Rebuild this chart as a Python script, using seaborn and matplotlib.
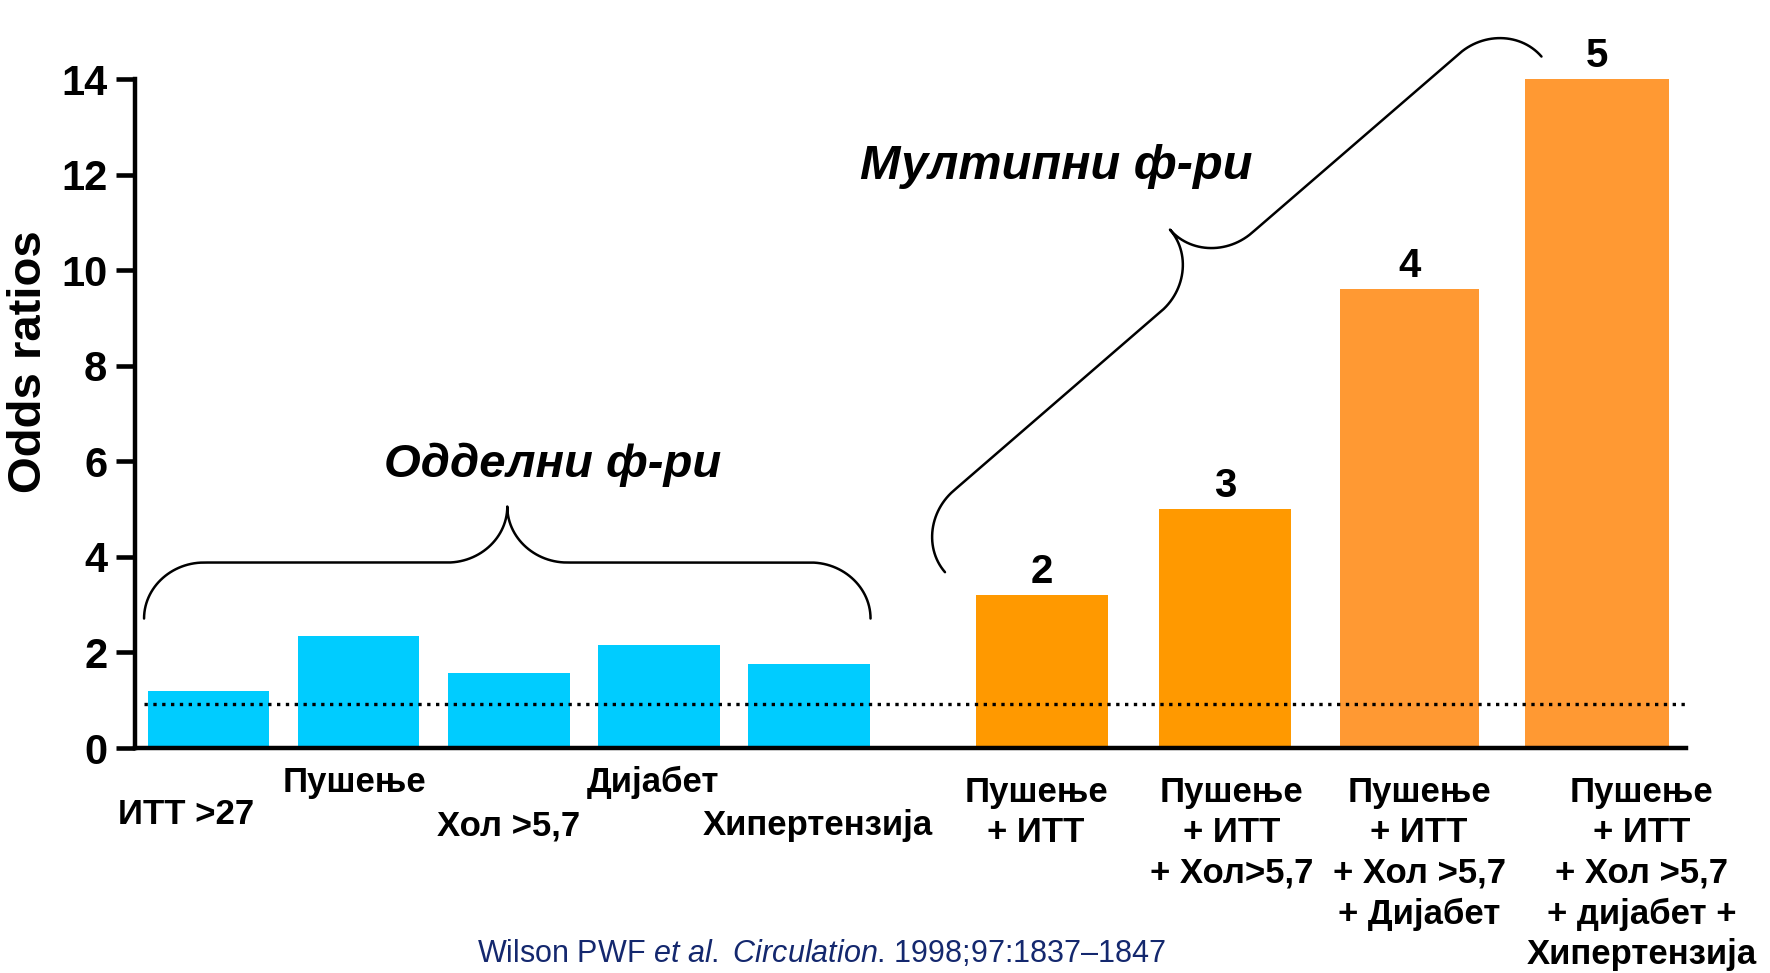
import numpy as np
import pandas as pd
import matplotlib.pyplot as plt
import seaborn as sns

# Data
labels = ['ИТТ >27', 'Пушење', 'Хол >5,7', 'Дијабет', 'Хипертензија',
          'Пушење\n+ ИТТ',
          'Пушење\n+ ИТТ\n+ Хол>5,7',
          'Пушење\n+ ИТТ\n+ Хол >5,7\n+ Дијабет',
          'Пушење\n+ ИТТ\n+ Хол >5,7\n+ дијабет +\nХипертензија']
odds = [1.2, 2.35, 1.57, 2.15, 1.75, 3.2, 5.0, 9.6, 14.0]
n_factors = ['', '', '', '', '', '2', '3', '4', '5']
colors = ['#00CCFF'] * 5 + ['#FF9900', '#FF9900', '#FF9933', '#FF9933']
ref_line = 0.93
yticks = [0, 2, 4, 6, 8, 10, 12, 14]

# Layout
positions = [0, 1, 2, 3, 4, 5.55, 6.77, 8.0, 9.25]
widths = [0.81] * 5 + [0.88, 0.88, 0.93, 0.955]
# label offsets (points): (dx, dy) from the bar foot
label_off = [(-16, -48), (-3, -25), (0, -56), (-4, -25), (6, -56),
             (-4, -20), (5, -20), (7, -20), (32, -20)]

sns.set_theme(style='white')
plt.rcParams['font.family'] = ['Liberation Sans', 'DejaVu Sans']
plt.rcParams['text.color'] = 'black'
plt.rcParams['axes.labelcolor'] = 'black'
plt.rcParams['ytick.color'] = 'black'
plt.rcParams['mathtext.fontset'] = 'custom'
plt.rcParams['mathtext.rm'] = 'Liberation Sans'
plt.rcParams['mathtext.it'] = 'Liberation Sans:italic'

df = pd.DataFrame({'pos': positions, 'odds': odds, 'label': labels})

fig = plt.figure(figsize=(17.7, 9.73), dpi=100)
ax = fig.add_axes([0.0763, 0.2312, 0.876, 0.6876])
sns.barplot(data=df, x='pos', y='odds', hue='label', palette=colors,
            native_scale=True, legend=False, ax=ax, saturation=1)

# bar widths differ a bit in the original
for p in ax.patches:
    c = p.get_x() + p.get_width() / 2
    i = int(np.argmin([abs(c - q) for q in positions]))
    p.set_x(c - widths[i] / 2)
    p.set_width(widths[i])
    p.set_edgecolor('none')

ax.set_xlim(-0.49, 9.84)
ax.set_ylim(0, 14)
ax.set_yticks(yticks)
ax.set_xticks([])
ax.set_xlabel('')
ax.set_ylabel('Odds ratios', fontsize=34, fontweight='bold')
ax.yaxis.set_label_coords(-0.054, 0.577)
ax.tick_params(axis='y', left=True, length=14, width=3.3, pad=6,
               labelsize=30, color='black', labelcolor='black')
for t in ax.get_yticklabels():
    t.set_fontweight('bold')
sns.despine(ax=ax)
for s in ['left', 'bottom']:
    ax.spines[s].set_color('black')
    ax.spines[s].set_linewidth(3.2)

ax.plot([-0.43, 9.84], [ref_line, ref_line], ls=':', color='black', lw=2.4,
        zorder=3, clip_on=False)

# category labels
for x, lab, (dx, dy) in zip(positions, labels, label_off):
    ax.annotate(lab, (x, 0), xytext=(dx, dy), textcoords='offset points',
                ha='center', va='top' if '\n' in lab else 'center',
                multialignment='center', fontsize=25, fontweight='bold',
                linespacing=1.29, annotation_clip=False)

# number of factors above bars
for x, v, n in zip(positions, odds, n_factors):
    if n:
        ax.annotate(n, (x, v), xytext=(0, 3), textcoords='offset points',
                    ha='center', va='bottom', fontsize=29, fontweight='bold',
                    annotation_clip=False)


def brace(p1, p2, h, r, k=0.55, npts=30):
    # curly brace between two data points, h and r in pixels
    a = ax.transData.transform(p1)
    b = ax.transData.transform(p2)
    d = b - a
    L = np.hypot(*d)
    u = d / L
    nv = np.array([-u[1], u[0]])
    segs = [
        [(0, 0), (0, k * h), (r - k * r, h), (r, h)],
        [(r, h), (r, h), (L / 2 - r, h), (L / 2 - r, h)],
        [(L / 2 - r, h), (L / 2 - r + k * r, h), (L / 2, 2 * h - k * h), (L / 2, 2 * h)],
        [(L / 2, 2 * h), (L / 2, 2 * h - k * h), (L / 2 + r - k * r, h), (L / 2 + r, h)],
        [(L / 2 + r, h), (L / 2 + r, h), (L - r, h), (L - r, h)],
        [(L - r, h), (L - r + k * r, h), (L, k * h), (L, 0)],
    ]
    t = np.linspace(0, 1, npts)[:, None]
    pts = []
    for P in segs:
        P = np.array(P, dtype=float)
        q = ((1 - t) ** 3 * P[0] + 3 * (1 - t) ** 2 * t * P[1]
             + 3 * (1 - t) * t ** 2 * P[2] + t ** 3 * P[3])
        pts.append(q)
    pts = np.vstack(pts)
    disp = a + pts[:, :1] * u + pts[:, 1:] * nv
    dat = ax.transData.inverted().transform(disp)
    ax.plot(dat[:, 0], dat[:, 1], color='black', lw=1.8, clip_on=False,
            solid_capstyle='round')


brace((-0.43, 2.71), (4.41, 2.71), h=56, r=60)
brace((4.906, 3.68), (8.88, 14.47), h=56, r=60)

ax.text(2.29, 5.93, 'Одделни ф-ри', ha='center', va='center', fontsize=34,
        fontweight='bold', fontstyle='italic')
ax.text(5.65, 12.16, 'Мултипни ф-ри', ha='center', va='center', fontsize=35,
        fontweight='bold', fontstyle='italic')

fig.text(0.464, 0.004, r'Wilson PWF $et\ al.$ $Circulation$. 1998;97:1837–1847',
         ha='center', va='bottom', fontsize=22, color='#14286e')

fig.savefig('out.png', dpi=100)
